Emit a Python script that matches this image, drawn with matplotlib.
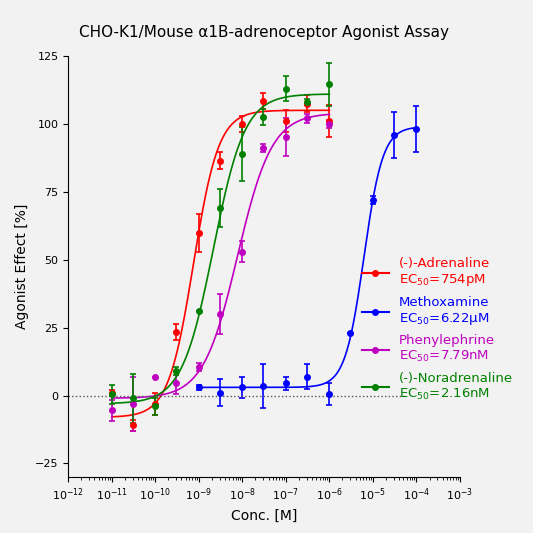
import matplotlib.pyplot as plt
from matplotlib.lines import Line2D
import numpy as np

conc = np.array([1e-11, 3e-11, 1e-10, 3e-10, 1e-9, 3e-9, 1e-8, 3e-8, 1e-7, 3e-7, 1e-6])
conc_meth = np.array([1e-9, 3e-9, 1e-8, 3e-8, 1e-7, 3e-7, 1e-6, 3e-6, 1e-5, 3e-5, 1e-4])

adr = [1, -11, -3, 23.5, 60, 86.5, 100, 108.5, 101, 107.5, 101]
adr_err = [1, 2, 4, 3, 7, 3, 3, 3, 4, 3, 6]
meth = [3, 1, 3, 3.5, 4.5, 7, 0.5, 23, 72, 96, 98]
meth_err = [1, 5, 4, 8, 2.5, 4.5, 4, 0, 1.5, 8.5, 8.5]
phen = [-5.5, -3, 7, 4.5, 10.5, 30, 53, 91, 95, 102, 100]
phen_err = [4, 10, 0, 4, 1.5, 7.5, 4, 1.5, 7, 1.5, 1.5]
nor = [0.5, -1, -4, 9, 31, 69, 89, 102.5, 113, 108, 114.5]
nor_err = [3.5, 9, 3, 1.5, 0, 7, 10, 3, 4.5, 1, 8]

# bottom, top, EC50, hill
fits = {
    'adr': (-8, 105, 7.54e-10, 1.5),
    'meth': (3, 99, 6.22e-6, 2.0),
    'phen': (-1, 104, 7.79e-9, 1.1),
    'nor': (-3, 111, 2.16e-9, 1.2),
}

def curve(x, b, t, ec, h):
    return b + (t - b) / (1 + (ec / x) ** h)

series = [
    ('(-)-Adrenaline', '754pM', conc, adr, adr_err, fits['adr'], '#ff0000'),
    ('Methoxamine', '6.22µM', conc_meth, meth, meth_err, fits['meth'], '#0000ff'),
    ('Phenylephrine', '7.79nM', conc, phen, phen_err, fits['phen'], '#c000c0'),
    ('(-)-Noradrenaline', '2.16nM', conc, nor, nor_err, fits['nor'], '#008000'),
]

fig = plt.figure(figsize=(5.33, 5.33), dpi=100, facecolor='#f2f2f2')
ax = fig.add_axes([0.128, 0.105, 0.735, 0.79])
ax.set_facecolor('#f2f2f2')

handles = []
for name, ec, x, y, e, p, c in series:
    xs = np.logspace(np.log10(x[0]), np.log10(x[-1]), 300)
    ax.plot(xs, curve(xs, *p), color=c, lw=1.2)
    ax.errorbar(x, y, yerr=e, fmt='o', color=c, ms=4, capsize=2.5, elinewidth=1.2, capthick=1.2)
    handles.append(Line2D([], [], color=c, marker='o', ms=4, lw=1.5,
                          label=name + '\nEC$_{50}$=' + ec))

ax.axhline(0, color='#555555', ls=':', lw=1, xmax=0.86)
ax.set_xscale('log')
ax.set_xlim(1e-12, 1e-3)
ax.set_ylim(-30, 125)
ax.set_xticks([10.0 ** k for k in range(-12, -2)])
ax.set_yticks([-25, 0, 25, 50, 75, 100, 125])
ax.tick_params(labelsize=8)
ax.spines['top'].set_visible(False)
ax.spines['right'].set_visible(False)
ax.set_xlabel('Conc. [M]', fontsize=10)
ax.set_ylabel('Agonist Effect [%]', fontsize=10)
ax.set_title('CHO-K1/Mouse α1B-adrenoceptor Agonist Assay', fontsize=11, pad=14)

leg = ax.legend(handles=handles, loc='lower left', bbox_to_anchor=(0.72, 0.15), frameon=False,
                fontsize=9.5, labelspacing=0.55, handlelength=2, handletextpad=0.8)
for t, s in zip(leg.get_texts(), series):
    t.set_color(s[6])

fig.savefig('out.png', dpi=100, facecolor='#f2f2f2')
